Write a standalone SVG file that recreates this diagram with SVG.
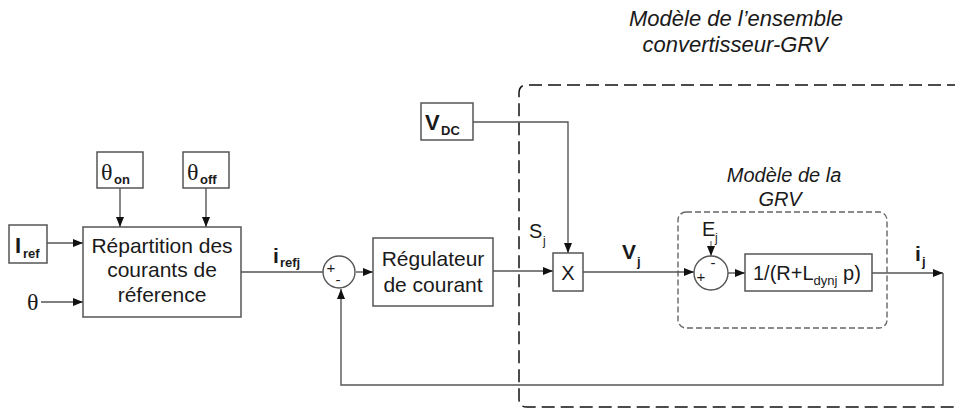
<svg xmlns="http://www.w3.org/2000/svg" width="955" height="412" viewBox="0 0 955 412">
<defs>
<style>
text{font-family:"Liberation Sans",Arial,sans-serif;fill:#1a1a1a}
.t{font-size:21px}
.it{font-style:italic;font-size:22px}
.it2{font-style:italic;font-size:20px}
.b{font-weight:bold}
.box{fill:#fff;stroke:#555;stroke-width:1.5}
.ln{fill:none;stroke:#555;stroke-width:1.4}
.th{font-family:"Liberation Serif","Times New Roman",serif}
</style>
<marker id="ar" viewBox="0 0 10 8" refX="10" refY="4" markerWidth="11" markerHeight="8" markerUnits="userSpaceOnUse" orient="auto">
<path d="M0,0 L10,4 L0,8 z" fill="#111"/>
</marker>
</defs>

<g id="frames">
<path id="model-frame" d="M960 85 H527 Q519 85 519 93 V399 Q519 407 527 407 H960" fill="none" stroke="#111" stroke-width="1.5" stroke-dasharray="13 6"/>
<rect id="grv-frame" x="678" y="212" width="209" height="116" rx="8" fill="none" stroke="#666" stroke-width="1.4" stroke-dasharray="6 3"/>
<text class="it" x="736" y="26" text-anchor="middle">Modèle de l’ensemble</text>
<text class="it" x="735" y="52" text-anchor="middle">convertisseur-GRV</text>
<text class="it2" x="784" y="182" text-anchor="middle">Modèle de la</text>
<text class="it2" x="780" y="206" text-anchor="middle">GRV</text>
</g>

<g id="connectors">
<path class="ln" d="M120 188 V227" marker-end="url(#ar)"/>
<path class="ln" d="M206 188 V227" marker-end="url(#ar)"/>
<path class="ln" d="M47 243 H83" marker-end="url(#ar)"/>
<path class="ln" d="M41 302 H83" marker-end="url(#ar)"/>
<path class="ln" d="M241 272 H323"/>
<path class="ln" d="M356 272 H373" marker-end="url(#ar)"/>
<path class="ln" d="M493 271 H553" marker-end="url(#ar)"/>
<path class="ln" d="M473 122 H568 V253" marker-end="url(#ar)"/>
<path class="ln" d="M583 272 H694" marker-end="url(#ar)"/>
<path class="ln" d="M728 273 H745" marker-end="url(#ar)"/>
<path class="ln" d="M711 241 V256" marker-end="url(#ar)" style="stroke-width:1"/>
<path class="ln" d="M872 273 H943" marker-end="url(#ar)"/>
<path class="ln" d="M943 273 V385 H341 V289" marker-end="url(#ar)"/>
</g>

<g id="theta-on">
<rect class="box" x="97" y="152" width="46" height="36"/>
<text x="101" y="180" class="th" style="font-size:24px">θ</text>
<text x="114" y="184" class="b" style="font-size:13px">on</text>
</g>
<g id="theta-off">
<rect class="box" x="183" y="152" width="46" height="36"/>
<text x="187" y="180" class="th" style="font-size:24px">θ</text>
<text x="200" y="184" class="b" style="font-size:13px">off</text>
</g>
<g id="iref">
<rect class="box" x="9" y="225" width="38" height="38"/>
<text x="15" y="253" class="b" style="font-size:22px">I</text>
<text x="23" y="258" class="b" style="font-size:13px">ref</text>
</g>
<g id="theta-in">
<text x="27" y="310" class="th" style="font-size:24px">θ</text>
</g>
<g id="repartition">
<rect class="box" x="83" y="227" width="158" height="90"/>
<text class="t" x="162" y="253" text-anchor="middle">Répartition des</text>
<text class="t" x="162" y="277" text-anchor="middle">courants de</text>
<text class="t" x="162" y="302" text-anchor="middle">réference</text>
</g>
<g id="irefj-label">
<text x="273" y="263" class="b" style="font-size:21px">i</text>
<text x="280" y="267" class="b" style="font-size:13px">refj</text>
</g>
<g id="sum1">
<circle cx="339" cy="272" r="16" fill="#fff" stroke="#555" stroke-width="1.4"/>
<text x="331" y="273" text-anchor="middle" style="font-size:15px">+</text>
<text x="338" y="285" text-anchor="middle" style="font-size:15px">-</text>
</g>
<g id="regulateur">
<rect class="box" x="373" y="238" width="120" height="68"/>
<text class="t" x="433" y="266" text-anchor="middle">Régulateur</text>
<text class="t" x="433" y="292" text-anchor="middle">de courant</text>
</g>
<g id="vdc">
<rect class="box" x="421" y="103" width="52" height="37"/>
<text x="425" y="130" class="b" style="font-size:22px">V</text>
<text x="441" y="135" class="b" style="font-size:13px">DC</text>
</g>
<g id="sj-label">
<text x="529" y="238" style="font-size:20px">S</text>
<text x="543" y="245" style="font-size:12px">j</text>
</g>
<g id="mult">
<rect class="box" x="553" y="253" width="30" height="38"/>
<text x="568" y="280" text-anchor="middle" style="font-size:20px">X</text>
</g>
<g id="vj-label">
<text x="622" y="259" class="b" style="font-size:21px">V</text>
<text x="637" y="266" class="b" style="font-size:13px">j</text>
</g>
<g id="ej-label">
<text x="702" y="236" style="font-size:20px">E</text>
<text x="715" y="242" style="font-size:12px">j</text>
</g>
<g id="sum2">
<circle cx="711" cy="273" r="17" fill="#fff" stroke="#555" stroke-width="1.4"/>
<text x="701" y="282" text-anchor="middle" style="font-size:15px">+</text>
<text x="713" y="268" text-anchor="middle" style="font-size:15px">-</text>
</g>
<g id="transfer">
<rect class="box" x="745" y="254" width="127" height="37"/>
<text x="753" y="280" style="font-size:20px">1/(R+L<tspan dy="5" style="font-size:13px">dynj</tspan><tspan dy="-5"> p)</tspan></text>
</g>
<g id="ij-label">
<text x="915" y="261" class="b" style="font-size:21px">i</text>
<text x="922" y="266" class="b" style="font-size:13px">j</text>
</g>
</svg>
